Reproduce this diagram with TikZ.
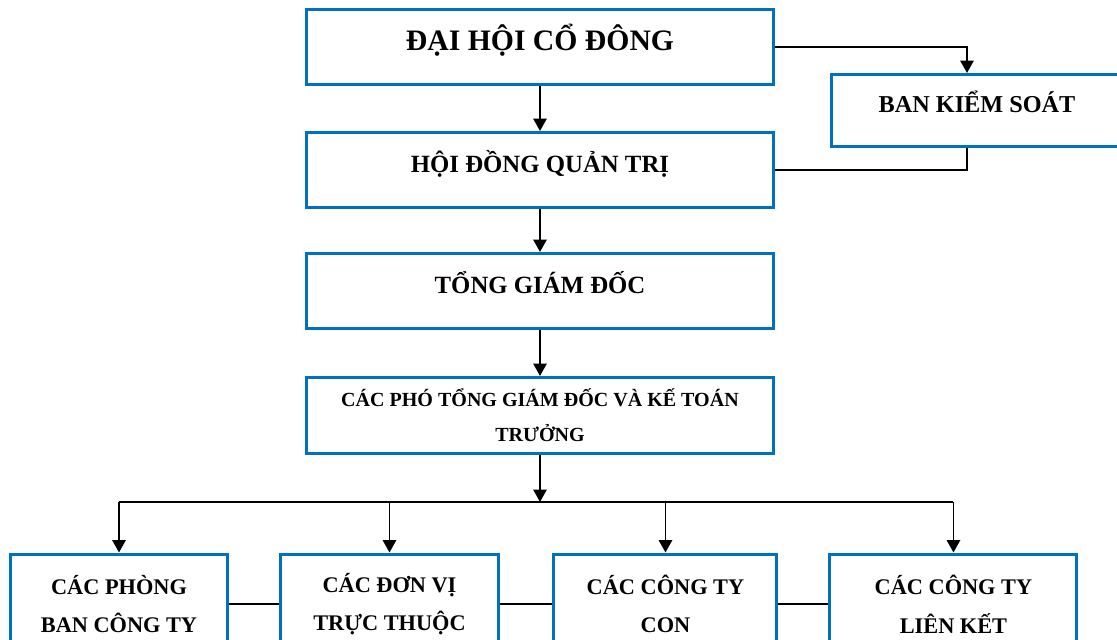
\documentclass[tikz,border=0pt]{standalone}
\usepackage{fontspec}
\setmainfont{Liberation Serif}
\usepackage{tikz}
\usetikzlibrary{positioning, arrows.meta}
\usepackage{xcolor}
\definecolor{XanhKhung}{RGB}{0,112,192}
\tikzset{
  khung/.style={rectangle, draw=XanhKhung, line width=1.7pt, align=center, inner sep=0pt},
  motdong/.style={text height=9.5pt, text depth=7.2pt},
  noi/.style={line width=1.1pt, black}
}

\begin{document}
\begin{tikzpicture}[>={Triangle[length=7pt, width=7.5pt]}]
  \useasboundingbox (0,0) rectangle (22.34,-12.78);
  % cac cap lanh dao
  \node[khung, minimum width=9.34cm, minimum height=1.5cm, font=\bfseries\fontsize{16.9}{20}\selectfont, text height=11.5pt, text depth=7.5pt] (dhcd) at (10.8,-0.94) {ĐẠI HỘI CỔ ĐÔNG};
  \node[khung, motdong, minimum width=9.34cm, minimum height=1.5cm, font=\bfseries\fontsize{14.1}{17}\selectfont, below=0.9cm of dhcd] (hdqt) {HỘI ĐỒNG QUẢN TRỊ};
  \node[khung, motdong, minimum width=9.34cm, minimum height=1.5cm, font=\bfseries\fontsize{14.1}{17}\selectfont, below=0.86cm of hdqt] (tgd) {TỔNG GIÁM ĐỐC};
  \node[khung, minimum width=9.34cm, minimum height=1.52cm, font=\bfseries\fontsize{11.4}{19.8}\selectfont, below=0.92cm of tgd] (pho) {CÁC PHÓ TỔNG GIÁM ĐỐC VÀ KẾ TOÁN\\TRƯỞNG};
  \node[khung, motdong, minimum width=5.82cm, minimum height=1.44cm, font=\bfseries\fontsize{13.8}{17}\selectfont] (bks) at (19.54,-2.21) {BAN KIỂM SOÁT};
  % cac don vi ben duoi
  \node[khung, minimum width=4.34cm, minimum height=2cm, font=\bfseries\fontsize{12.7}{22}\selectfont] (phong) at (2.38,-12.08) {CÁC PHÒNG\\BAN CÔNG TY};
  \node[khung, minimum width=4.36cm, minimum height=2cm, font=\bfseries\fontsize{12.7}{22}\selectfont, right=1cm of phong] (donvi) {CÁC ĐƠN VỊ\\TRỰC THUỘC};
  \node[khung, minimum width=4.46cm, minimum height=2cm, font=\bfseries\fontsize{12.7}{22}\selectfont, right=1.05cm of donvi] (congtycon) {CÁC CÔNG TY\\CON};
  \node[khung, minimum width=4.94cm, minimum height=2cm, font=\bfseries\fontsize{12.7}{22}\selectfont, right=1cm of congtycon] (lienket) {CÁC CÔNG TY\\LIÊN KẾT};
  \coordinate (bus) at (10.8,-10.04);
  \coordinate (bksvao) at ([xshift=-0.2cm]bks.north);
  \coordinate (bksra) at ([xshift=-0.2cm]bks.south);
  % duong noi
  \draw[->, noi] (dhcd) -- (hdqt);
  \draw[->, noi] (hdqt) -- (tgd);
  \draw[->, noi] (tgd) -- (pho);
  \draw[->, noi] (dhcd.east) -| (bksvao);
  \draw[noi] (bksra) |- (hdqt.east);
  \draw[->, noi] (pho.south) -- (bus);
  \draw[noi] (phong |- bus) -- (lienket |- bus);
  \draw[->, noi] (phong |- bus) -- (phong.north);
  \draw[->, noi] (donvi |- bus) -- (donvi.north);
  \draw[->, noi] (congtycon |- bus) -- (congtycon.north);
  \draw[->, noi] (lienket |- bus) -- (lienket.north);
  \draw[noi] (phong) -- (donvi);
  \draw[noi] (donvi) -- (congtycon);
  \draw[noi] (congtycon) -- (lienket);
\end{tikzpicture}
\end{document}
